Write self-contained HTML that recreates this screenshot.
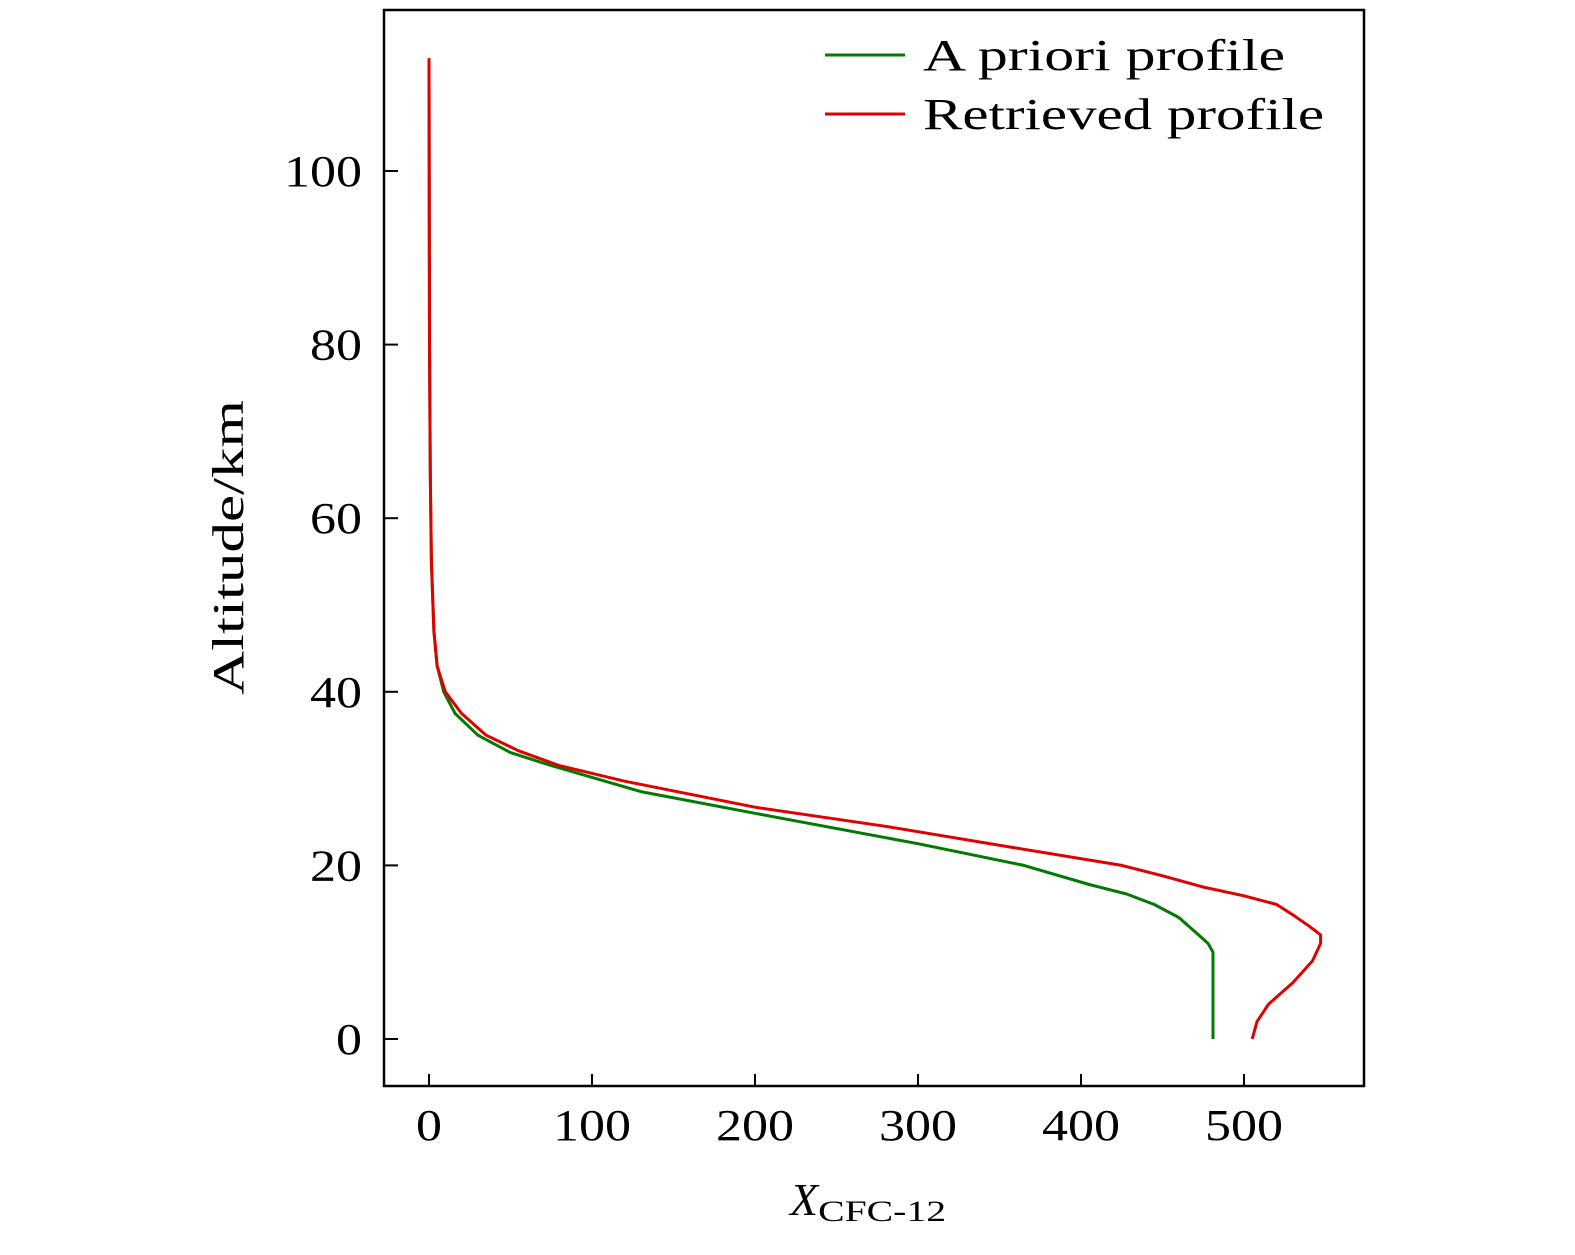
<!DOCTYPE html>
<html><head><meta charset="utf-8"><style>
body{margin:0;background:#fff;}
svg text{font-family:"Liberation Serif",serif;fill:#000;}
</style></head><body>
<svg width="1575" height="1250">
<rect x="384" y="10" width="980" height="1076" fill="none" stroke="#000" stroke-width="2.5"/>
<g id="axes"></g>
<path id="gline" fill="none" stroke="#007a00" stroke-width="3" stroke-linejoin="round"/>
<path id="rline" fill="none" stroke="#e00000" stroke-width="3" stroke-linejoin="round"/>
<g>
<line x1="825" y1="55" x2="905" y2="55" stroke="#007a00" stroke-width="3"/>
<text x="923" y="70" font-size="44" textLength="362" lengthAdjust="spacingAndGlyphs">A priori profile</text>
<line x1="825" y1="114" x2="905" y2="114" stroke="#e00000" stroke-width="3"/>
<text x="923" y="129" font-size="44" textLength="401" lengthAdjust="spacingAndGlyphs">Retrieved profile</text>
</g>
<text transform="translate(243,695) rotate(-90)" font-size="44" textLength="295" lengthAdjust="spacingAndGlyphs">Altitude/km</text>
<text x="790" y="1215" font-size="46" font-style="italic">X<tspan font-size="30" font-style="normal" dy="6" textLength="128" lengthAdjust="spacingAndGlyphs">CFC-12</tspan></text>
</svg>
<script>
const xTicks=[0,100,200,300,400,500];
const yTicks=[0,20,40,60,80,100];
const gX=[481,481,481,478,472,460,445,428,405,365,300,200,130,75,50,30,16,9,5,3,1.5,0.8,0.3,0];
const gY=[0,1,10,11,12,14,15.5,16.7,17.8,20,22.5,26,28.5,31.5,33,35,37.5,40,43,47,55,65,80,113];
const rX=[505,508,515,530,542,547,547,540,530,520,500,475,450,425,360,280,200,120,80,55,35,20,10,5,3,1.5,0.8,0.3,0];
const rY=[0,2,4,6.5,9,11,12,13,14.3,15.5,16.5,17.5,18.8,20,22,24.5,26.7,29.7,31.5,33.2,35,37.5,40,43,47,55,65,80,113];
const X=v=>429+v*1.63, Y=v=>1039-v*8.68;
const ns='http://www.w3.org/2000/svg', ax=document.getElementById('axes');
xTicks.forEach(t=>{
 const l=document.createElementNS(ns,'line');
 l.setAttribute('x1',X(t));l.setAttribute('x2',X(t));l.setAttribute('y1',1086);l.setAttribute('y2',1074);l.setAttribute('stroke','#000');l.setAttribute('stroke-width','2');
 
 
 ax.appendChild(l);
 const tx=document.createElementNS(ns,'text');
 tx.setAttribute('x',X(t)-String(t).length*13);tx.setAttribute('y',1140);tx.setAttribute('font-size','44');
 tx.setAttribute('textLength',String(t).length*26);tx.setAttribute('lengthAdjust','spacingAndGlyphs');tx.textContent=t;
 
 
 ax.appendChild(tx);
});
yTicks.forEach(t=>{
 const l=document.createElementNS(ns,'line');
 l.setAttribute('x1',384);l.setAttribute('x2',398);l.setAttribute('y1',Y(t));l.setAttribute('y2',Y(t));l.setAttribute('stroke','#000');l.setAttribute('stroke-width','2');
 
 
 ax.appendChild(l);
 const tx=document.createElementNS(ns,'text');
 tx.setAttribute('x',362-String(t).length*26);tx.setAttribute('y',Y(t)+15);tx.setAttribute('font-size','44');
 tx.setAttribute('textLength',String(t).length*26);tx.setAttribute('lengthAdjust','spacingAndGlyphs');tx.textContent=t;
 
 
 ax.appendChild(tx);
});
const path=(xs,ys)=>xs.map((v,i)=>(i?'L':'M')+X(v).toFixed(1)+' '+Y(ys[i]).toFixed(1)).join(' ');
document.getElementById('gline').setAttribute('d',path(gX,gY));
document.getElementById('rline').setAttribute('d',path(rX,rY));
</script>
</body></html>
